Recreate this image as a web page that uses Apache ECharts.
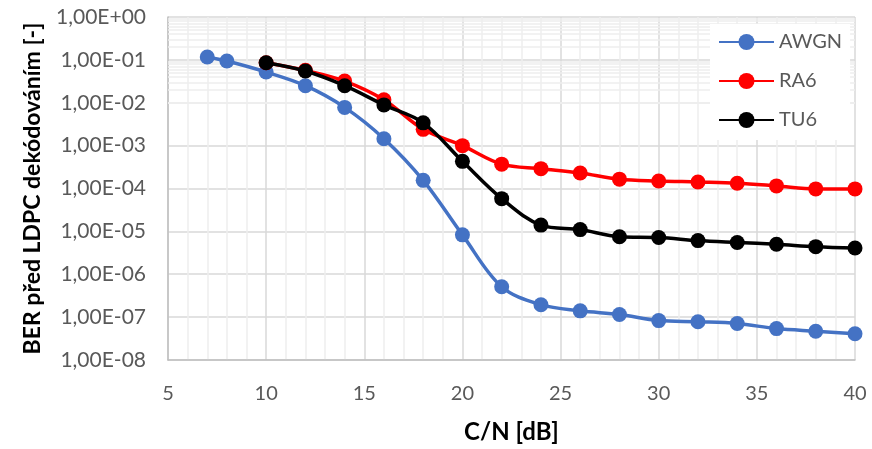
<!DOCTYPE html>
<html>
<head>
<meta charset="utf-8">
<script src="https://cdn.jsdelivr.net/npm/echarts@6/dist/echarts.min.js"></script>
<style>html,body{margin:0;padding:0;background:#fff;}#c{width:872px;height:449px;}</style>
</head>
<body>
<div id="c"></div>
<script>
var seriesNames = ['AWGN', 'RA6', 'TU6'];
var awgnX = [7, 8, 10, 12, 14, 16, 18, 20, 22, 24, 26, 28, 30, 32, 34, 36, 38, 40];
var awgnY = [1.17e-1, 9.4e-2, 5.2e-2, 2.5e-2, 7.8e-3, 1.45e-3, 1.55e-4, 8.3e-6, 5.1e-7, 1.95e-7, 1.4e-7, 1.15e-7, 8.3e-8, 7.8e-8, 7.1e-8, 5.4e-8, 4.7e-8, 4.1e-8];
var raX = [10, 12, 14, 16, 18, 20, 22, 24, 26, 28, 30, 32, 34, 36, 38, 40];
var raY = [8.6e-2, 5.7e-2, 3.2e-2, 1.17e-2, 2.4e-3, 1.0e-3, 3.7e-4, 2.9e-4, 2.3e-4, 1.65e-4, 1.5e-4, 1.42e-4, 1.33e-4, 1.15e-4, 9.8e-5, 9.8e-5];
var tuX = [10, 12, 14, 16, 18, 20, 22, 24, 26, 28, 30, 32, 34, 36, 38, 40];
var tuY = [8.6e-2, 5.5e-2, 2.5e-2, 8.9e-3, 3.4e-3, 4.3e-4, 5.8e-5, 1.4e-5, 1.1e-5, 7.5e-6, 7.2e-6, 6.1e-6, 5.5e-6, 5.0e-6, 4.4e-6, 4.1e-6];
var yTickLabels = ['1,00E-08', '1,00E-07', '1,00E-06', '1,00E-05', '1,00E-04', '1,00E-03', '1,00E-02', '1,00E-01', '1,00E+00'];
var xTitle = 'C/N [dB]';
var yTitle = 'BER před LDPC dekódováním [-]';
var colors = ['#4472C4', '#FF0000', '#000000'];

function pairs(xs, ys) { return xs.map(function (x, i) { return [x, ys[i]]; }); }

// minor log gridlines (2..9 x 10^n)
var minorLines = [];
for (var n = -8; n < 0; n++) {
  for (var k = 2; k <= 9; k++) minorLines.push({ yAxis: k * Math.pow(10, n) });
}

var FONT = 'Lato';
var chart = echarts.init(document.getElementById('c'), null, { renderer: 'canvas' });

function mkSeries(name, xs, ys, color, z) {
  return {
    name: name, type: 'line', data: pairs(xs, ys), smooth: 0.35,
    symbol: 'circle', symbolSize: 15, z: z,
    lineStyle: { color: color, width: 3.5 },
    itemStyle: { color: color, borderWidth: 0 },
    emphasis: { disabled: true }
  };
}

chart.setOption({
  animation: false,
  textStyle: { fontFamily: FONT },
  grid: { left: 168, right: 17, top: 17, bottom: 89, containLabel: false },
  legend: {
    data: seriesNames, orient: 'vertical', left: 710, top: 24, z: 10,
    backgroundColor: '#ffffff', padding: [8, 8, 10, 8],
    itemWidth: 55, itemHeight: 20, itemGap: 19,
    textStyle: { fontSize: 20, color: '#595959', fontFamily: FONT }
  },
  xAxis: {
    type: 'value', min: 5, max: 40, interval: 5,
    name: xTitle, nameLocation: 'middle', nameGap: 60,
    nameTextStyle: { fontSize: 24, fontWeight: 'bold', color: '#000', fontFamily: FONT },
    axisLine: { show: true, lineStyle: { color: '#bfbfbf', width: 1.5 } },
    axisTick: { show: false },
    axisLabel: { fontSize: 20, color: '#595959', margin: 24, fontFamily: FONT },
    splitLine: { show: true, lineStyle: { color: '#d9d9d9', width: 1.5 } },
    minorTick: { show: false, splitNumber: 5 },
    minorSplitLine: { show: true, lineStyle: { color: '#eeeeee', width: 1.5 } }
  },
  yAxis: {
    type: 'log', logBase: 10, min: 1e-8, max: 1, interval: 1,
    name: yTitle, nameLocation: 'middle', nameGap: 124, nameRotate: 90,
    nameTextStyle: { fontSize: 23, fontWeight: 'bold', color: '#000', fontFamily: FONT },
    axisLine: { show: true, lineStyle: { color: '#bfbfbf', width: 1.5 } },
    axisTick: { show: false },
    axisLabel: {
      fontSize: 21, color: '#595959', margin: 22, fontFamily: FONT,
      formatter: function (v) { var e = Math.round(Math.log10(v)); return yTickLabels[e + 8] || ''; }
    },
    splitLine: { show: true, lineStyle: { color: '#d9d9d9', width: 1.5 } }
  },
  series: [
    {
      type: 'line', data: [], silent: true, z: 1,
      markLine: {
        silent: true, z: 1, symbol: ['none', 'none'], label: { show: false },
        lineStyle: { color: '#eeeeee', width: 1.5, type: 'solid' },
        emphasis: { disabled: true },
        data: minorLines
      }
    },
    mkSeries(seriesNames[0], awgnX, awgnY, colors[0], 3),
    mkSeries(seriesNames[1], raX, raY, colors[1], 4),
    mkSeries(seriesNames[2], tuX, tuY, colors[2], 5)
  ]
});
</script>
</body>
</html>
